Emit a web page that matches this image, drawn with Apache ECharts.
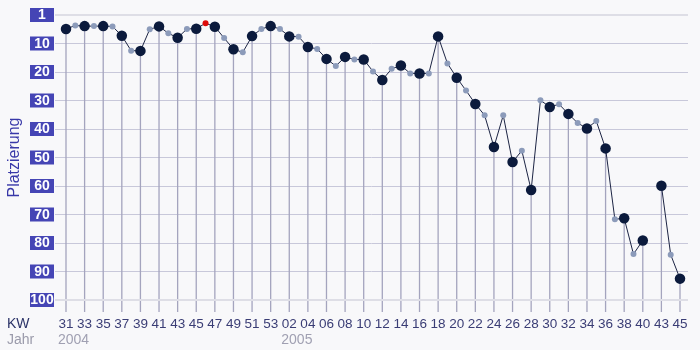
<!DOCTYPE html>
<html>
<head>
<meta charset="utf-8">
<script src="https://cdn.jsdelivr.net/npm/echarts@6/dist/echarts.min.js"></script>
<style>
html, body { margin: 0; padding: 0; background: #f8f8fa; }
#chart { width: 700px; height: 350px; }
</style>
</head>
<body>
<div id="chart"></div>
<script>
// Kalenderwochen 31/2004 - 45/2005, eine Lücke vor KW 43
var weeks = ['31','32','33','34','35','36','37','38','39','40','41','42','43','44','45','46','47','48','49','50','51','52','53',
  '01','02','03','04','05','06','07','08','09','10','11','12','13','14','15','16','17','18','19','20',
  '21','22','23','24','25','26','27','28','29','30','31','32','33','34','35','36','37','38','39','40',
  '42','43','44','45'];

// Platzierung (Achse 0..100, "1" steht oben)
var ranks = [4.9, 3.7, 3.9, 3.9, 3.9, 4.0, 7.3, 12.5, 12.6, 5.0, 4.0, 6.4, 8.0, 4.9, 4.8, 2.9, 4.1, 8.1, 12.0, 13.1, 7.4, 4.9, 3.9,
  4.9, 7.5, 7.6, 11.2, 11.9, 15.4, 17.9, 14.7, 15.6, 15.6, 19.8, 22.8, 18.9, 17.7, 20.5, 20.5, 20.5, 7.5,
  17.0, 22.0, 26.5, 31.2, 35.2, 46.3, 35.2, 51.6, 47.6, 61.4, 29.9, 32.3, 31.3, 34.7, 37.9, 39.8, 37.2, 46.8,
  71.7, 71.3, 83.9, 79.1, null, 59.9, 84.1, 92.5];

var yTickLabels = ['1','10','20','30','40','50','60','70','80','90','100'];
var years = [{ label: '2004', index: 0 }, { label: '2005', index: 24 }];
var peakIndex = 15;

var chart = echarts.init(document.getElementById('chart'));

var dropData = [];
ranks.forEach(function (v, i) {
    if (i % 2 === 0 && v != null) dropData.push([i, v]);
});

chart.setOption({
    backgroundColor: '#f8f8fa',
    animation: false,
    grid: [
        // nur für die waagerechten Linien
        { left: 55, right: 12, top: 15, bottom: 50, outerBoundsMode: 'none' },
        // Datenbereich
        { left: 61.35, right: 15.35, top: 15, bottom: 50, outerBoundsMode: 'none' }
    ],
    xAxis: [
        { type: 'value', gridIndex: 0, min: 0, max: 1, show: false },
        {
            type: 'category',
            gridIndex: 1,
            data: weeks,
            boundaryGap: true,
            axisLine: { show: false },
            axisTick: { show: false },
            splitLine: { show: false },
            axisLabel: {
                interval: 1,
                margin: 17,
                color: '#3a3d75',
                fontSize: 13.5,
                fontFamily: '"Liberation Sans", Arial, sans-serif'
            }
        }
    ],
    yAxis: [
        {
            type: 'value',
            gridIndex: 0,
            min: 0,
            max: 100,
            interval: 10,
            inverse: true,
            name: 'Platzierung',
            nameLocation: 'middle',
            nameGap: 32,
            nameMoveOverlap: false,
            nameTextStyle: { color: '#3838a8', fontSize: 16, fontFamily: '"Liberation Sans", Arial, sans-serif' },
            axisLine: { show: false },
            axisTick: { show: false },
            splitLine: {
                lineStyle: {
                    color: ['#dcdce6', '#c8c8da', '#c8c8da', '#c8c8da', '#c8c8da', '#c8c8da',
                        '#c8c8da', '#c8c8da', '#c8c8da', '#c8c8da', '#dcdce6'],
                    width: 1
                }
            },
            axisLabel: {
                margin: 1,
                formatter: function (v) {
                    return '{b|' + yTickLabels[Math.round(v / 10)] + '}';
                },
                rich: {
                    b: {
                        width: 24,
                        height: 13,
                        lineHeight: 13,
                        align: 'center',
                        padding: [1, 0, 0, 0],
                        backgroundColor: '#4545b5',
                        color: '#fff',
                        fontWeight: 'bold',
                        fontSize: 14,
                        fontFamily: '"Liberation Sans", Arial, sans-serif'
                    }
                }
            }
        },
        { type: 'value', gridIndex: 1, min: 0, max: 100, inverse: true, show: false }
    ],
    series: [
        {
            type: 'line',
            xAxisIndex: 0,
            yAxisIndex: 0,
            data: [],
            silent: true,
            markLine: {
                silent: true,
                symbol: 'none',
                label: { show: false },
                lineStyle: { color: '#dedee6', width: 2, type: 'solid' },
                data: [{ yAxis: 0 }, { yAxis: 100 }]
            }
        },
        {
            // senkrechte Linien von den Punkten nach unten
            type: 'custom',
            xAxisIndex: 1,
            yAxisIndex: 1,
            data: dropData,
            encode: { x: 0, y: 1 },
            silent: true,
            z: 2,
            renderItem: function (params, api) {
                var p = api.coord([api.value(0), api.value(1)]);
                var b = api.coord([api.value(0), 100]);
                return {
                    type: 'line',
                    shape: { x1: p[0], y1: p[1], x2: p[0], y2: b[1] + 12 },
                    style: { stroke: '#a4a4be', lineWidth: 1.3 }
                };
            }
        },
        {
            type: 'line',
            xAxisIndex: 1,
            yAxisIndex: 1,
            data: ranks,
            z: 3,
            symbol: 'circle',
            showAllSymbol: true,
            connectNulls: false,
            symbolSize: function (v, params) {
                return params.dataIndex % 2 === 0 ? 10.5 : 6;
            },
            lineStyle: { color: '#1c2444', width: 1 },
            itemStyle: {
                color: function (params) {
                    if (params.dataIndex === peakIndex) return '#dd0a0a';
                    return params.dataIndex % 2 === 0 ? '#0b1a3c' : '#8c9bba';
                }
            }
        }
    ]
});

// Beschriftung links unten und Jahreszahlen unter den Wochen
var graphics = [
    { type: 'text', left: 7, top: 317, style: { text: 'KW', fill: '#2c3468', font: '14px "Liberation Sans", Arial, sans-serif' } },
    { type: 'text', left: 7, top: 333, style: { text: 'Jahr', fill: '#9a9aaa', font: '14px "Liberation Sans", Arial, sans-serif' } }
];
years.forEach(function (y) {
    var x = chart.convertToPixel({ xAxisIndex: 1 }, y.index);
    graphics.push({
        type: 'text',
        x: x - 8,
        y: 333,
        style: { text: y.label, fill: '#a0a0b2', font: '14px "Liberation Sans", Arial, sans-serif' }
    });
});
chart.setOption({ graphic: graphics });
</script>
</body>
</html>
